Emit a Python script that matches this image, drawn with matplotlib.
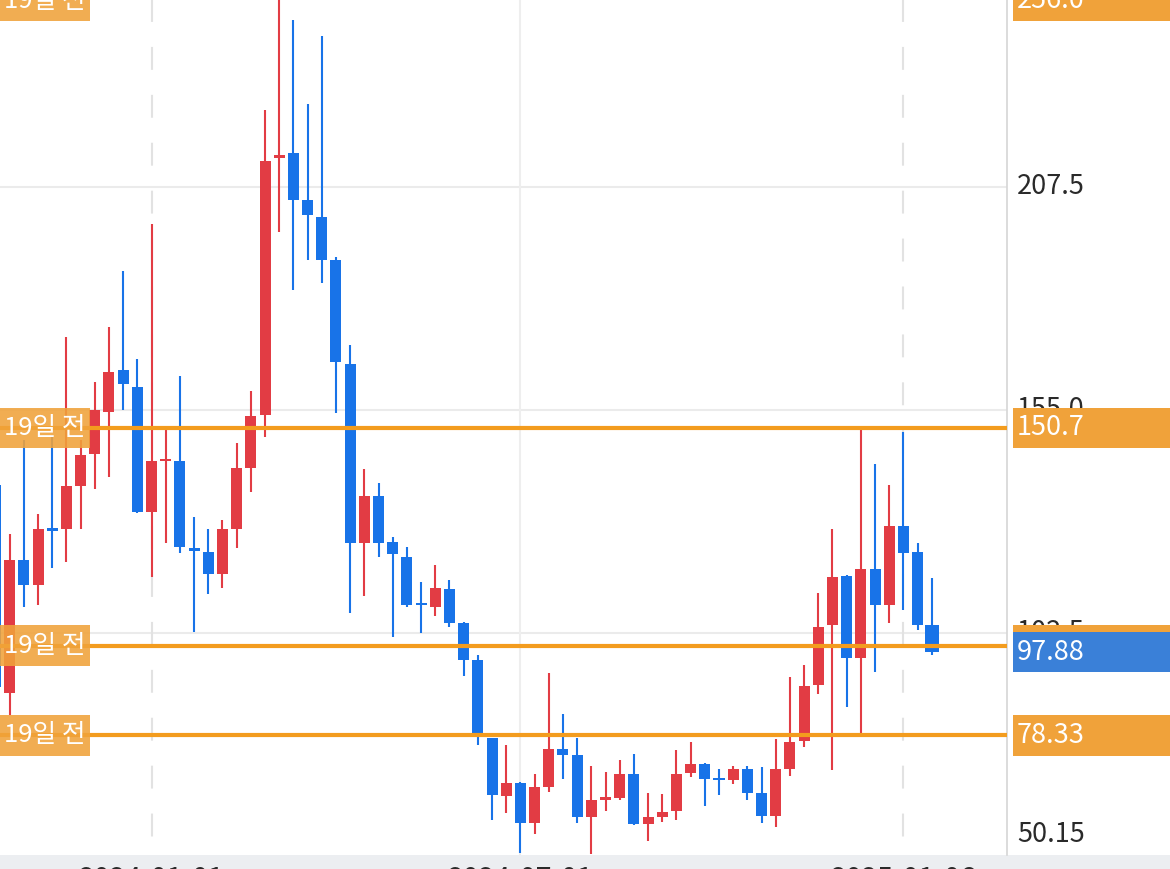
import numpy as np
import pandas as pd
import matplotlib
matplotlib.use('Agg')
import matplotlib.pyplot as plt
import matplotlib.transforms as mtransforms
from matplotlib.patches import Rectangle

plt.rcParams['font.family'] = ['Noto Sans CJK KR', 'DejaVu Sans']

# weekly candles (oldest first)
dates = pd.date_range('2023-10-16', periods=67, freq='W-MON')
opens = [137.3, 88.4, 119.5, 113.6, 127.0, 126.8, 137.1, 144.6, 154.5, 164.4,
         160.4, 131.0, 142.8, 143.0, 122.3, 121.4, 116.2, 127.0, 141.3, 153.7,
         214.3, 215.3, 204.3, 200.4, 190.1, 165.7, 123.6, 134.7, 123.8, 120.4,
         109.2, 108.6, 112.8, 104.8, 96.0, 77.8, 64.1, 67.0, 57.8, 66.2,
         75.0, 73.6, 59.0, 63.2, 63.5, 69.1, 57.5, 59.0, 60.6, 69.5,
         71.6, 68.1, 67.9, 70.5, 64.8, 59.3, 70.5, 76.9, 90.1, 104.2,
         115.9, 96.5, 117.5, 108.9, 127.7, 121.4, 104.2]
highs = [138.1, 125.6, 147.9, 130.5, 149.1, 172.0, 147.9, 161.6, 174.5, 187.7,
         167.0, 198.6, 150.3, 163.0, 129.6, 126.8, 129.1, 147.2, 159.4, 225.4,
         256.0, 246.7, 227.0, 243.0, 190.8, 170.1, 141.1, 137.6, 124.9, 122.7,
         114.5, 118.5, 114.8, 105.1, 97.2, 77.8, 76.1, 67.4, 69.1, 93.1,
         83.4, 77.6, 71.0, 69.8, 72.4, 74.0, 64.8, 64.6, 74.8, 76.8,
         71.9, 70.5, 71.0, 71.0, 70.9, 77.5, 92.0, 94.8, 111.8, 126.8,
         116.0, 150.7, 142.3, 137.2, 149.7, 123.5, 115.4]
lows = [89.1, 83.2, 108.6, 109.1, 117.8, 119.2, 127.0, 136.2, 139.2, 154.8,
        130.7, 115.7, 123.7, 121.3, 102.7, 111.7, 112.9, 122.5, 135.5, 148.6,
        196.9, 183.1, 190.3, 184.7, 154.1, 107.0, 111.2, 120.2, 101.4, 108.6,
        102.3, 106.3, 103.9, 92.4, 76.1, 58.3, 60.0, 50.7, 55.2, 64.9,
        68.1, 57.8, 50.3, 60.4, 63.0, 57.1, 53.5, 57.9, 58.5, 68.4,
        61.7, 64.2, 66.9, 63.2, 57.8, 56.8, 68.7, 75.6, 88.1, 70.2,
        85.0, 78.33, 93.2, 104.8, 107.8, 103.0, 97.3]
closes = [89.6, 119.5, 113.6, 127.0, 126.5, 136.9, 144.4, 155.0, 163.9, 161.1,
          131.0, 143.0, 143.2, 122.7, 121.8, 116.2, 126.8, 141.3, 153.4, 213.4,
          215.0, 204.3, 200.7, 190.1, 166.1, 123.6, 134.7, 123.7, 120.9, 109.1,
          108.9, 112.9, 104.8, 96.1, 78.7, 64.2, 67.0, 57.8, 66.1, 75.0,
          73.8, 59.0, 63.2, 63.5, 69.1, 57.4, 59.0, 60.3, 69.3, 71.6,
          68.1, 67.7, 70.5, 64.8, 59.3, 70.4, 76.8, 90.0, 103.8, 115.5,
          96.5, 117.5, 108.9, 127.7, 121.3, 104.4, 97.88]

# marked levels ("19일 전")
levels = [256.0, 150.7, 99.45, 78.33]
level_text = '19일 전'
last_price = 97.88
y_ticks = [207.5, 155.0, 102.5]
y_min, y_max = 50.15, 256.0
x_ticks = ['2024-01-01', '2024-07-01', '2025-01-06']

RED = '#e23c44'
BLUE = '#1873e8'
ORANGE = '#f39c1e'
ORANGE_BOX = '#f0a23a'
BLUE_BOX = '#3a80d8'

W, H = 1170, 869
fig = plt.figure(figsize=(W / 100, H / 100), dpi=100)
fig.patch.set_facecolor('white')
# bottom date strip
fig.add_artist(Rectangle((0, 0), 1, 14 / H, transform=fig.transFigure,
                         facecolor='#eceef1', edgecolor='none', zorder=0))

ax = fig.add_axes([0, 14 / H, 1007 / W, 874.5 / H])
ax.set_facecolor('white')
ax.set_ylim(y_min, y_max)
ax.set_xlim(0.32, 71.3)
for s in ['top', 'left', 'bottom']:
    ax.spines[s].set_visible(False)
ax.spines['right'].set_color('#d6d6d6')
ax.spines['right'].set_linewidth(1.2)
ax.set_xticks([])
ax.set_yticks([])

px = (y_max - y_min) / 874.5   # data units per pixel

# horizontal grid
for v in y_ticks:
    ax.axhline(v, color='#ebebeb', lw=1.5, zorder=0)

# vertical date grid
idx = np.arange(len(dates))
for lab in x_ticks:
    i = int(np.where(dates == pd.Timestamp(lab))[0][0])
    if pd.Timestamp(lab).month == 1:
        ax.plot([i, i], [y_max, y_min], color='#e2e2e2', lw=1.5,
                dashes=[11, 12], zorder=0)
    else:
        ax.plot([i, i], [y_max, y_min], color='#eeeeee', lw=1.5, zorder=0)
    ax.text(i, 1 - 865 / H, lab, transform=mtransforms.blended_transform_factory(
        ax.transData, fig.transFigure), ha='center', va='top', fontsize=20.5,
        color='#2a2a2a', clip_on=False)

# candles
o = np.array(opens); c = np.array(closes)
hi = np.array(highs); lo = np.array(lows)
up = c >= o
cols = np.where(up, RED, BLUE)
bottoms = np.minimum(o, c)
heights = np.maximum(np.abs(c - o), 2.5 * px)
widths = np.full(len(o), 0.776)
widths[-1] = 0.98
ax.vlines(idx, lo, hi, colors=cols, lw=1.5, zorder=2)
ax.bar(idx, heights, bottom=bottoms, width=widths, color=cols, zorder=3)

# level lines and their left labels
trans_left = mtransforms.blended_transform_factory(ax.transAxes, ax.transData)
box_h = 40.5 * px
top_center = y_max - 20 * px
for lv in levels:
    ax.axhline(lv, color=ORANGE, lw=3, zorder=4)
    yc = min(lv, top_center)
    ax.add_patch(Rectangle((0, yc - box_h / 2), 90 / 1007, box_h, transform=trans_left,
                           facecolor=ORANGE_BOX, alpha=0.88, edgecolor='none', zorder=5))
    ax.text(4 / 1007, yc, level_text, transform=trans_left, ha='left', va='center',
            fontsize=18.5, color='white', zorder=6)

# right price scale
trans_right = mtransforms.blended_transform_factory(fig.transFigure, ax.transData)
bottom_label = y_min + 20 * px
for v, lab in [(y_max, '256.0'), (207.5, '207.5'), (155.0, '155.0'),
               (102.5, '102.5'), (y_min, '50.15')]:
    yc = min(max(v, bottom_label), top_center)
    ax.text(1017 / W, yc, lab, transform=trans_right, ha='left', va='center',
            fontsize=19.5, color='#2a2a2a', clip_on=False, zorder=1)

def right_box(v, text, face):
    yc = min(v, top_center)
    ax.add_patch(Rectangle((1013 / W, yc - box_h / 2), 1 - 1013 / W, box_h,
                           transform=trans_right, facecolor=face, edgecolor='none',
                           clip_on=False, zorder=7))
    if text:
        ax.text(1017 / W, yc, text, transform=trans_right, ha='left', va='center',
                fontsize=19.5, color='white', clip_on=False, zorder=8)

right_box(levels[0], '256.0', ORANGE_BOX)
right_box(levels[1], '150.7', ORANGE_BOX)
right_box(levels[2], '', ORANGE_BOX)
right_box(levels[3], '78.33', ORANGE_BOX)
right_box(last_price, '97.88', BLUE_BOX)

fig.savefig('out.png', dpi=100)
